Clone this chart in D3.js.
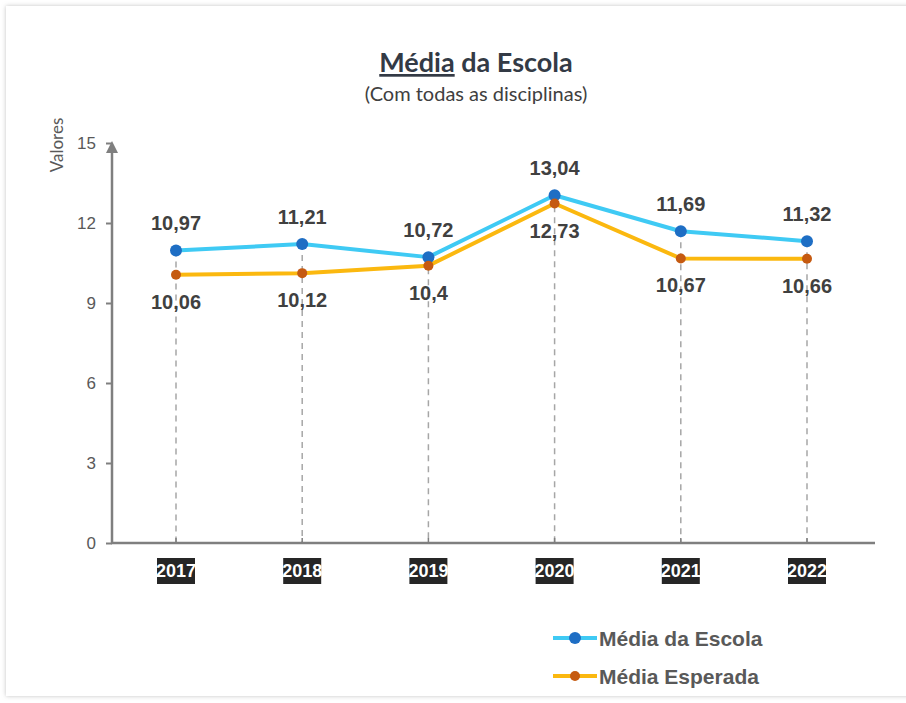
<!DOCTYPE html>
<html>
<head>
    <style>
        body { margin: 0; background: #fff; }
        .tick text { font: 17px "Liberation Sans", Arial, sans-serif; fill: #595959; }
        .val { font: bold 20px "Liberation Sans", Arial, sans-serif; fill: #404040; text-anchor: middle; }
        .legend text { font: bold 21px "Liberation Sans", Arial, sans-serif; fill: #595959; }
    </style>
    <script src="https://d3js.org/d3.v7.min.js"></script>
</head>
<body>
    <svg width="906" height="703"></svg>
    <script>
    var years = ["2017", "2018", "2019", "2020", "2021", "2022"];
    var mediaEscola = [10.97, 11.21, 10.72, 13.04, 11.69, 11.32];
    var mediaEsperada = [10.06, 10.12, 10.4, 12.73, 10.67, 10.66];
    var yTicks = [0, 3, 6, 9, 12, 15];

    var svg = d3.select("svg");

    // soft frame round the chart
    var defs = svg.append("defs");
    var f = defs.append("filter").attr("id", "shadow").attr("x", "-5%").attr("y", "-5%").attr("width", "110%").attr("height", "110%");
    f.append("feDropShadow").attr("dx", 0).attr("dy", 0).attr("stdDeviation", 2).attr("flood-color", "#999").attr("flood-opacity", 0.6);
    svg.append("rect")
       .attr("x", 6).attr("y", 6).attr("width", 940).attr("height", 690)
       .attr("fill", "#fff").attr("filter", "url(#shadow)");

    var x = d3.scalePoint().domain(years).range([176, 807]);
    var y = d3.scaleLinear().domain([0, 15]).range([543, 143]);

    // title
    var title = svg.append("text")
       .attr("x", 476).attr("y", 72)
       .attr("text-anchor", "middle")
       .style("font", "bold 27px Lato, 'Open Sans', sans-serif")
       .attr("fill", "#333a45");
    title.append("tspan").attr("text-decoration", "underline").text("Média");
    title.append("tspan").text(" da Escola");

    svg.append("text")
       .attr("x", 476).attr("y", 101)
       .attr("text-anchor", "middle")
       .style("font", "20px Lato, 'Open Sans', sans-serif")
       .attr("fill", "#404040")
       .text("(Com todas as disciplinas)");

    svg.append("text")
       .attr("transform", "translate(63,145) rotate(-90)")
       .attr("text-anchor", "middle")
       .style("font", "17px Lato, 'Open Sans', sans-serif")
       .attr("fill", "#595959")
       .text("Valores");

    // dashed drop lines
    svg.append("g").selectAll("line")
       .data(years)
       .enter().append("line")
       .attr("x1", function(d) { return x(d); })
       .attr("x2", function(d) { return x(d); })
       .attr("y1", function(d, i) { return y(Math.max(mediaEscola[i], mediaEsperada[i])); })
       .attr("y2", y(0))
       .attr("stroke", "#a6a6a6")
       .attr("stroke-width", 1.5)
       .attr("stroke-dasharray", "6,5");

    // y axis
    var yAxis = svg.append("g")
       .attr("transform", "translate(112,0)")
       .call(d3.axisLeft(y).tickValues(yTicks).tickSize(6).tickPadding(10));
    yAxis.select(".domain").remove();
    yAxis.selectAll(".tick line").attr("stroke", "#7f7f7f").attr("stroke-width", 2);
    yAxis.selectAll(".tick text").attr("dy", "0.35em");
    svg.append("line")
       .attr("x1", 112).attr("x2", 112).attr("y1", y(0)).attr("y2", y(15) + 2)
       .attr("stroke", "#7f7f7f").attr("stroke-width", 2.5);
    svg.append("path")
       .attr("d", "M112," + (y(15) - 2) + " L106," + (y(15) + 10) + " L118," + (y(15) + 10) + " Z")
       .attr("fill", "#7f7f7f");

    // x axis
    svg.append("line")
       .attr("x1", 111).attr("x2", 875).attr("y1", y(0)).attr("y2", y(0))
       .attr("stroke", "#7f7f7f").attr("stroke-width", 2.5);
    svg.append("g").selectAll("line")
       .data(years)
       .enter().append("line")
       .attr("x1", function(d) { return x(d); })
       .attr("x2", function(d) { return x(d); })
       .attr("y1", y(0) - 5).attr("y2", y(0))
       .attr("stroke", "#7f7f7f").attr("stroke-width", 1.5);

    var yearLab = svg.append("g").selectAll("g")
       .data(years)
       .enter().append("g")
       .attr("transform", function(d) { return "translate(" + x(d) + ",571)"; });
    yearLab.append("rect")
       .attr("x", -19).attr("y", -13).attr("width", 38).attr("height", 26)
       .attr("fill", "#262626");
    yearLab.append("text")
       .attr("text-anchor", "middle").attr("dy", "0.36em")
       .style("font", "bold 18px 'Liberation Sans Narrow', 'Liberation Sans', Arial, sans-serif")
       .attr("fill", "#fff")
       .text(function(d) { return d; });

    var line = d3.line()
       .x(function(d, i) { return x(years[i]); })
       .y(function(d) { return y(d); });

    var series = [
        { name: "Média da Escola", values: mediaEscola, line: "#3fcaf4", dot: "#1e6ec4", above: true },
        { name: "Média Esperada", values: mediaEsperada, line: "#fbb80f", dot: "#c55a11", above: false }
    ];

    series.slice().reverse().forEach(function(s) {
        svg.append("path")
           .attr("d", line(s.values))
           .attr("fill", "none")
           .attr("stroke", s.line)
           .attr("stroke-width", 4)
           .attr("stroke-linejoin", "round");
    });
    series.forEach(function(s) {
        svg.append("g").selectAll("circle")
           .data(s.values)
           .enter().append("circle")
           .attr("cx", function(d, i) { return x(years[i]); })
           .attr("cy", function(d) { return y(d); })
           .attr("r", s.above ? 6 : 5)
           .attr("fill", s.dot);
        svg.append("g").selectAll("text")
           .data(s.values)
           .enter().append("text")
           .attr("class", "val")
           .attr("x", function(d, i) { return x(years[i]); })
           .attr("y", function(d) { return s.above ? y(d) - 20 : y(d) + 34; })
           .text(function(d) { return String(d).replace(".", ","); });
    });

    // legend
    var legend = svg.append("g").attr("class", "legend");
    series.forEach(function(s, i) {
        var ly = 638 + i * 38;
        legend.append("line")
           .attr("x1", 553).attr("x2", 597).attr("y1", ly).attr("y2", ly)
           .attr("stroke", s.line).attr("stroke-width", 4);
        legend.append("circle")
           .attr("cx", 575).attr("cy", ly).attr("r", s.above ? 6 : 5)
           .attr("fill", s.dot);
        legend.append("text")
           .attr("x", 599).attr("y", ly).attr("dy", "0.36em")
           .text(s.name);
    });
    </script>
</body>
</html>
